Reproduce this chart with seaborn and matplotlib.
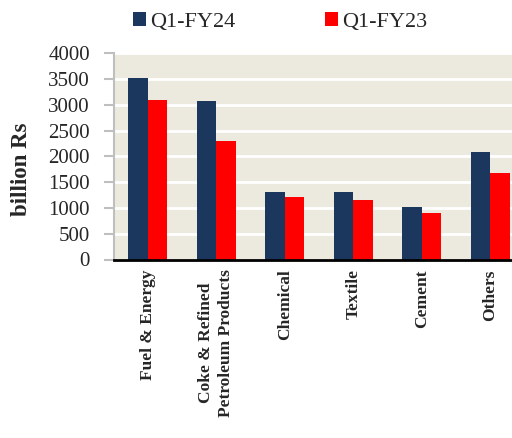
import matplotlib
matplotlib.use("Agg")
import matplotlib.pyplot as plt
import seaborn as sns
import pandas as pd

categories = ["Fuel & Energy", "Coke & Refined\nPetroleum Products", "Chemical",
              "Textile", "Cement", "Others"]
q1_fy24 = [3520, 3070, 1300, 1310, 1010, 2080]
q1_fy23 = [3100, 2290, 1210, 1160, 910, 1670]
series_names = ["Q1-FY24", "Q1-FY23"]
yticks = [0, 500, 1000, 1500, 2000, 2500, 3000, 3500, 4000]

df = pd.DataFrame({
    "cat": categories * 2,
    "val": q1_fy24 + q1_fy23,
    "series": [series_names[0]] * len(categories) + [series_names[1]] * len(categories),
})

sns.set_style("white")
plt.rcParams["font.family"] = ["Liberation Serif", "DejaVu Serif"]

fig = plt.figure(figsize=(5.12, 4.38), dpi=100)
ax = fig.add_axes([113.5 / 512, 178.5 / 438, 411 / 512, 206.2 / 438])
ax.set_facecolor("#ECE9DF")

sns.barplot(data=df, x="cat", y="val", hue="series", ax=ax,
            palette=["#1B375E", "#FF0000"], width=0.57, saturation=1,
            linewidth=0, legend=True)

ax.set_ylim(0, 4000)
ax.set_xlim(-0.5, 5.5)
ax.set_yticks(yticks)
ax.set_yticklabels([str(v) for v in yticks], fontsize=15)
ax.grid(axis="y", color="white", linewidth=2)
ax.set_axisbelow(True)

ax.set_xlabel("")
ax.set_ylabel("billion Rs", fontsize=16.5, fontweight="bold")
ax.yaxis.set_label_coords(-0.198, 0.436)
ax.set_xticks(range(len(categories)))
ax.set_xticklabels(categories, rotation=90, fontsize=12.5, fontweight="bold",
                   ha="center", va="top", linespacing=1.3)
ax.tick_params(axis="x", length=0, pad=7)
ax.tick_params(axis="y", direction="out", length=7, width=1.5, color="#BFBFBF", pad=10, left=True)

for s in ["top", "right"]:
    ax.spines[s].set_visible(False)
ax.spines["left"].set_color("#BFBFBF")
ax.spines["left"].set_linewidth(1.5)
ax.spines["bottom"].set_color("black")
ax.spines["bottom"].set_linewidth(2)

handles, labels = ax.get_legend_handles_labels()
ax.get_legend().remove()
fig.legend(handles, labels, loc="center", bbox_to_anchor=(0.547, 0.95), ncol=2,
           frameon=False, fontsize=16, handlelength=0.6, handleheight=0.6,
           handletextpad=0.2, columnspacing=4.0, borderpad=0)

fig.savefig("out.png", dpi=100)
